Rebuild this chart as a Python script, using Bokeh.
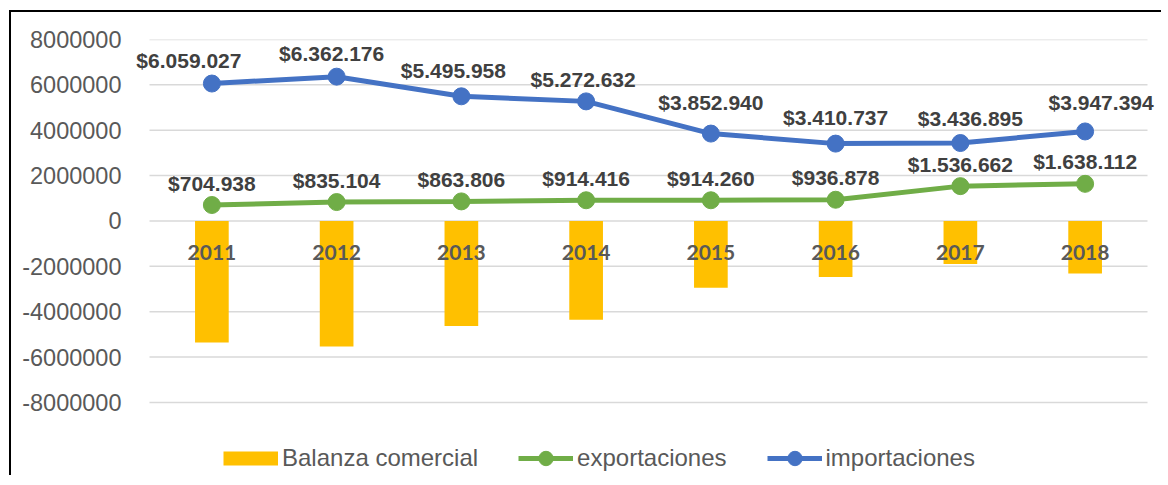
from bokeh.plotting import figure
from bokeh.models import (FactorRange, Range1d, FixedTicker, NumeralTickFormatter,
                          Legend, LegendItem, ColumnDataSource)
from bokeh.core.properties import value
from bokeh.embed import file_html
from bokeh.resources import INLINE

years = ["2011", "2012", "2013", "2014", "2015", "2016", "2017", "2018"]
exportaciones = [704938, 835104, 863806, 914416, 914260, 936878, 1536662, 1638112]
importaciones = [6059027, 6362176, 5495958, 5272632, 3852940, 3410737, 3436895, 3947394]
balanza = [-5354089, -5527072, -4632152, -4358216, -2938680, -2473859, -1900233, -2309282]
y_ticks = [-8000000, -6000000, -4000000, -2000000, 0, 2000000, 4000000, 6000000, 8000000]

# label nudges (pixels) for the importaciones data labels, as placed in the original
imp_label_dx = [-23, -5, -8, -3, 0, 0, 10, 16]
imp_label_dy = [-23, -23, -26, -22, -31, -26, -25, -29]


def fmt(v):
    return "$" + f"{v:,}".replace(",", ".")


src = ColumnDataSource(dict(
    x=years, exp=exportaciones, imp=importaciones, bal=balanza,
    zero=[0] * len(years),
    exp_lab=[fmt(v) for v in exportaciones],
    imp_lab=[fmt(v) for v in importaciones],
    imp_dx=imp_label_dx, imp_dy=imp_label_dy,
))

# the frame is a little wider than the gridded area (so the outer labels are not cut)
# and runs below -8000000 to leave room for the legend inside it
x_range = FactorRange(*years, range_padding=0.12025, range_padding_units="absolute")
p = figure(width=1152, height=465, x_range=x_range,
           y_range=Range1d(-11306000, 8000000), output_backend="svg",
           toolbar_location=None, min_border_left=123, min_border_right=1,
           min_border_top=27, min_border_bottom=0)
p.styles = {"margin-left": "9px", "margin-top": "10px",
            "border-left": "2px solid #000000", "border-top": "2px solid #000000"}
p.outline_line_color = None
p.background_fill_color = "white"

# y axis
yax = p.yaxis[0]
yax.ticker = FixedTicker(ticks=y_ticks)
yax.formatter = NumeralTickFormatter(format="0")
yax.axis_line_color = None
yax.major_tick_line_color = None
yax.minor_tick_line_color = None
yax.major_label_standoff = 7
yax.major_label_text_font = "Liberation Sans"
yax.major_label_text_font_size = "23.5px"
yax.major_label_text_color = "#595959"

p.ygrid.grid_line_color = None
p.xgrid.grid_line_color = None
p.xaxis.visible = False

# horizontal gridlines spanning the category area only
grid_src = ColumnDataSource(dict(
    x0=[(years[0], -0.5)] * len(y_ticks),
    x1=[(years[-1], 0.5)] * len(y_ticks),
    y=y_ticks,
))
p.segment(x0="x0", y0="y", x1="x1", y1="y", source=grid_src,
          line_color="#D9D9D9", line_width=1.5)

p.vbar(x="x", top="bal", width=0.27, source=src, color="#FFC000", line_color=None)

# category labels sitting at the zero line
p.text(x="x", y="zero", text="x", source=src, y_offset=32,
       text_align="center", text_baseline="middle",
       text_font=value("Lato"), text_font_style="bold",
       text_font_size="21px", text_color="#595959")

l_exp = p.line("x", "exp", source=src, line_width=5, color="#70AD47")
s_exp = p.scatter("x", "exp", source=src, size=17, color="#70AD47")
l_imp = p.line("x", "imp", source=src, line_width=5, color="#4472C4")
s_imp = p.scatter("x", "imp", source=src, size=17, color="#4472C4")

p.text(x="x", y="exp", text="exp_lab", source=src, y_offset=-22,
       text_align="center", text_baseline="middle",
       text_font=value("Liberation Sans"), text_font_style="bold",
       text_font_size="21px", text_color="#404040")
p.text(x="x", y="imp", text="imp_lab", source=src, x_offset="imp_dx", y_offset="imp_dy",
       text_align="center", text_baseline="middle",
       text_font=value("Liberation Sans"), text_font_style="bold",
       text_font_size="21px", text_color="#404040")

# legend patch for the bars (a renderer that draws nothing in the plot)
bar_leg = p.line(x=[years[0]], y=[float("nan")], line_width=14, color="#FFC000",
                 line_cap="butt")

legend = Legend(items=[
    LegendItem(label="Balanza comercial", renderers=[bar_leg]),
    LegendItem(label="exportaciones", renderers=[l_exp, s_exp]),
    LegendItem(label="importaciones", renderers=[l_imp, s_imp]),
], orientation="horizontal", location=(89, 1))
legend.glyph_width = 55
legend.glyph_height = 36
legend.label_height = 36
legend.label_standoff = 4
legend.spacing = 40
legend.padding = 0
legend.margin = 0
legend.border_line_color = None
legend.background_fill_alpha = 0
legend.label_text_font = "Liberation Sans"
legend.label_text_font_size = "24px"
legend.label_text_color = "#595959"
p.add_layout(legend, "center")

open("out.html", "w").write(file_html(p, INLINE))
